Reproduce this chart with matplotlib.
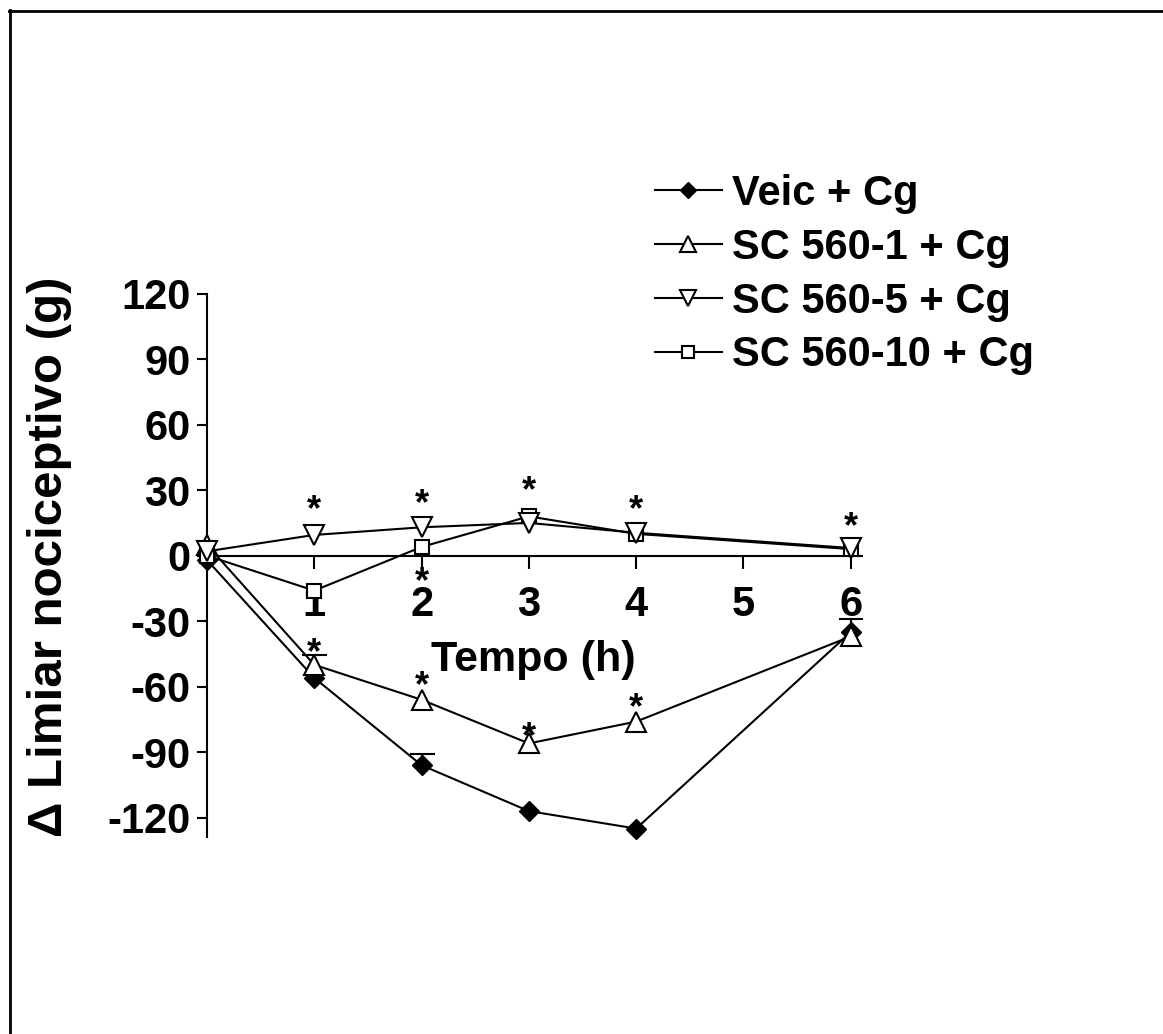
import matplotlib
matplotlib.use("Agg")
import matplotlib.pyplot as plt
from matplotlib.lines import Line2D

plt.rcParams['font.family'] = ['Liberation Sans', 'DejaVu Sans']
plt.rcParams['font.weight'] = 'bold'
plt.rcParams['axes.unicode_minus'] = False

# tempo (h) e variação do limiar nociceptivo (g)
tempo = [0, 1, 2, 3, 4, 6]
veic = [-2, -56, -96, -117, -125, -35]
sc1 = [5, -50, -66, -86, -76, -37]
sc5 = [2, 9.5, 13, 15, 10.5, 3.5]
sc10 = [0, -16, 4, 18, 10, 3]

# erro padrão (só a parte superior aparece)
veic_err = [0, 0, 5, 0, 0, 6]
sc1_err = [0, 4.5, 0, 0, 0, 0]

# asteriscos de significância (tempo, posição)
sig_x = [1, 1, 2, 2, 2, 3, 3, 4, 4, 6]
sig_y = [26, -39.5, 28.7, -7.3, -54.6, 34.4, -78.3, 25.8, -64.7, 17.9]

labels = ['Veic + Cg', 'SC 560-1 + Cg', 'SC 560-5 + Cg', 'SC 560-10 + Cg']
yticks = [-120, -90, -60, -30, 0, 30, 60, 90, 120]
xticks = [1, 2, 3, 4, 5, 6]

W, H = 1163, 1034
fig = plt.figure(figsize=(W / 100, H / 100), dpi=100)
ax = fig.add_axes([207 / W, 1 - 837.3 / H, 654.5 / W, 543.6 / H])

lw = 1.5


def barra_erro(xs, ys, errs):
    # só a haste de cima e o traço final
    for x, y, e in zip(xs, ys, errs):
        if e > 0:
            ax.vlines(x, y, y + e, color='black', lw=lw, zorder=2)
            ax.plot([x], [y + e], marker='_', ms=18, mew=lw, color='black', zorder=2)


barra_erro(tempo, veic, veic_err)
barra_erro(tempo, sc1, sc1_err)

h1, = ax.plot(tempo, veic, color='black', lw=lw, marker='D', ms=10,
              mfc='black', mec='black', zorder=3, clip_on=False)
h2, = ax.plot(tempo, sc1, color='black', lw=lw, marker='^', ms=14,
              mfc='white', mec='black', mew=lw, zorder=4, clip_on=False)
h3, = ax.plot(tempo, sc5, color='black', lw=lw, marker='v', ms=14,
              mfc='white', mec='black', mew=lw, zorder=5, clip_on=False)
h4, = ax.plot(tempo, sc10, color='black', lw=lw, marker='s', ms=10.5,
              mfc='white', mec='black', mew=lw, zorder=4, clip_on=False)

for x, y in zip(sig_x, sig_y):
    ax.annotate('*', xy=(x, y), xytext=(0, -15), textcoords='offset points',
                ha='center', va='baseline', fontsize=26, fontweight='bold')

ax.set_xlim(0, 6.1)
ax.set_ylim(-129, 120)
ax.spines['top'].set_visible(False)
ax.spines['right'].set_visible(False)
ax.spines['bottom'].set_position(('data', 0))
for s in ('left', 'bottom'):
    ax.spines[s].set_linewidth(lw)
ax.set_xticks(xticks)
ax.set_yticks(yticks)
ax.tick_params(axis='x', direction='out', length=9, width=lw, pad=12, labelsize=30)
ax.tick_params(axis='y', direction='out', length=7, width=lw, pad=5, labelsize=30)
for t in ax.get_xticklabels() + ax.get_yticklabels():
    t.set_fontweight('bold')

fig.text(533 / W, 1 - 660 / H, 'Tempo (h)', ha='center', va='center',
         fontsize=31, fontweight='bold')
fig.text(50 / W, 1 - 557 / H, 'Δ Limiar nociceptivo (g)', ha='center', va='center',
         rotation=90, fontsize=35.5, fontweight='bold')

leg = ax.legend([h1, h2, h3, h4], labels, loc='upper left',
                bbox_to_anchor=(655 / W, 1 - 174 / H), bbox_transform=fig.transFigure,
                frameon=False, borderpad=0, borderaxespad=0, handlelength=1.6,
                handletextpad=0.25, labelspacing=0.33, markerscale=0.8,
                prop={'size': 30, 'weight': 'bold'})

# moldura superior e esquerda
fig.add_artist(Line2D([9 / W, 1], [1 - 11 / H, 1 - 11 / H], color='black', lw=2,
                      transform=fig.transFigure))
fig.add_artist(Line2D([10 / W, 10 / W], [0, 1 - 10 / H], color='black', lw=2,
                      transform=fig.transFigure))

fig.savefig('out.png', dpi=100)
